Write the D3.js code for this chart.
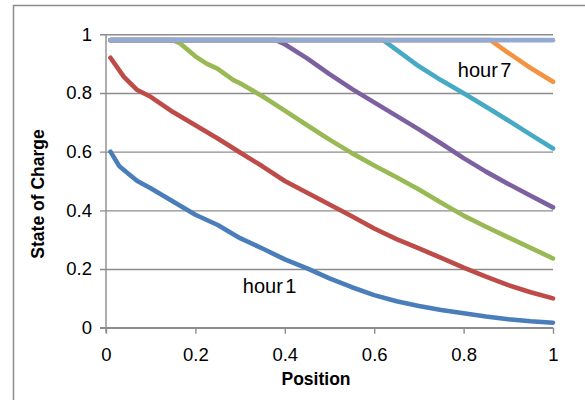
<!DOCTYPE html>
<html>
<head>
<meta charset="utf-8">
<script src="https://cdn.jsdelivr.net/npm/d3@7"></script>
<style>
  html, body { margin: 0; padding: 0; background: #fff; }
  svg { display: block; }
  text { font-family: "Liberation Sans", Arial, sans-serif; fill: #000; }
</style>
</head>
<body>
<svg id="chart" width="585" height="400"></svg>
<script>
// ---- data ----
const seriesNames = ["hour 1", "hour 2", "hour 3", "hour 4", "hour 5", "hour 6", "full"];
const hour1X = [0.01, 0.03, 0.05, 0.07, 0.10, 0.15, 0.20, 0.25, 0.30, 0.35, 0.40, 0.45, 0.50, 0.55, 0.60, 0.65, 0.70, 0.75, 0.80, 0.85, 0.90, 0.95, 1.00];
const hour1Y = [0.60, 0.55, 0.525, 0.50, 0.475, 0.43, 0.385, 0.35, 0.305, 0.27, 0.233, 0.202, 0.168, 0.138, 0.111, 0.09, 0.074, 0.06, 0.049, 0.038, 0.029, 0.022, 0.017];
const hour2X = [0.01, 0.04, 0.07, 0.10, 0.15, 0.20, 0.25, 0.30, 0.35, 0.40, 0.45, 0.50, 0.55, 0.60, 0.65, 0.70, 0.75, 0.80, 0.85, 0.90, 0.95, 1.00];
const hour2Y = [0.92, 0.855, 0.81, 0.787, 0.735, 0.69, 0.645, 0.597, 0.55, 0.50, 0.46, 0.42, 0.38, 0.338, 0.302, 0.27, 0.238, 0.205, 0.174, 0.145, 0.121, 0.10];
const hour3X = [0.01, 0.15, 0.166, 0.20, 0.225, 0.25, 0.285, 0.30, 0.35, 0.40, 0.45, 0.50, 0.55, 0.60, 0.65, 0.70, 0.75, 0.80, 0.85, 0.90, 0.95, 1.00];
const hour3Y = [0.98, 0.98, 0.969, 0.925, 0.90, 0.882, 0.844, 0.833, 0.789, 0.74, 0.69, 0.641, 0.595, 0.553, 0.513, 0.471, 0.426, 0.382, 0.344, 0.308, 0.272, 0.236];
const hour4X = [0.01, 0.38, 0.40, 0.45, 0.50, 0.55, 0.60, 0.65, 0.70, 0.75, 0.80, 0.85, 0.90, 0.95, 1.00];
const hour4Y = [0.98, 0.98, 0.966, 0.918, 0.864, 0.814, 0.768, 0.722, 0.676, 0.628, 0.578, 0.532, 0.49, 0.45, 0.41];
const hour5X = [0.01, 0.62, 0.65, 0.70, 0.75, 0.80, 0.85, 0.90, 0.95, 1.00];
const hour5Y = [0.98, 0.98, 0.947, 0.891, 0.843, 0.799, 0.753, 0.706, 0.658, 0.611];
const hour6X = [0.01, 0.86, 0.90, 0.95, 1.00];
const hour6Y = [0.98, 0.98, 0.937, 0.885, 0.838];
const fullX = [0.01, 1.00];
const fullY = [0.98, 0.98];
const xTicks = [0, 0.2, 0.4, 0.6, 0.8, 1];
const yTicks = [0, 0.2, 0.4, 0.6, 0.8, 1];
const xTickLabels = ["0", "0.2", "0.4", "0.6", "0.8", "1"];
const yTickLabels = ["0", "0.2", "0.4", "0.6", "0.8", "1"];
const annotationText = ["hour 7", "hour 1"];
const annotationX = [0.787, 0.306];
const annotationY = [0.854, 0.118];
const xTitle = "Position";
const yTitle = "State of Charge";

// ---- build ----
const colors = ["#4A7EBB", "#BE4B48", "#98B954", "#7D60A0", "#46AAC5", "#F59240", "#93AAD2"];
const xs = [hour1X, hour2X, hour3X, hour4X, hour5X, hour6X, fullX];
const ys = [hour1Y, hour2Y, hour3Y, hour4Y, hour5Y, hour6Y, fullY];
const series = seriesNames.map((n, i) => ({ name: n, color: colors[i], pts: xs[i].map((x, j) => [x, ys[i][j]]) }));

const svg = d3.select("#chart");
svg.append("rect").attr("width", 585).attr("height", 400).attr("fill", "#fff");

// outer chart border (top and left visible)
svg.append("path").attr("d", "M13.5,400 L13.5,5.5 L585,5.5")
  .attr("fill", "none").attr("stroke", "#8c8c8c").attr("stroke-width", 1.5);

const x = d3.scaleLinear().domain([0, 1]).range([106, 553]);
const y = d3.scaleLinear().domain([0, 1]).range([327.7, 34.3]);
const gridColor = "#8c8c8c";

// horizontal gridlines + left ticks
const yAxis = d3.axisLeft(y).tickValues(yTicks).tickSize(-(553 - 106)).tickFormat((d, i) => yTickLabels[i]).tickPadding(14);
const gy = svg.append("g").attr("transform", "translate(106,0)").call(yAxis);
gy.select(".domain").remove();
gy.selectAll(".tick line").attr("stroke", gridColor).attr("stroke-width", 1.4).attr("x1", -6);
gy.selectAll(".tick text").attr("font-size", "18.5px").attr("font-family", "Liberation Sans, Arial, sans-serif").attr("fill", "#000");

// vertical axis line
svg.append("line").attr("x1", 106).attr("x2", 106).attr("y1", y(1)).attr("y2", y(0) + 5)
  .attr("stroke", gridColor).attr("stroke-width", 1.4);

// x axis
const xAxis = d3.axisBottom(x).tickValues(xTicks).tickSize(6).tickFormat((d, i) => xTickLabels[i]).tickPadding(14);
const gx = svg.append("g").attr("transform", `translate(0,${y(0)})`).call(xAxis);
gx.select(".domain").remove();
gx.selectAll(".tick line").attr("stroke", gridColor).attr("stroke-width", 1.4);
gx.selectAll(".tick text").attr("font-size", "18.5px").attr("font-family", "Liberation Sans, Arial, sans-serif").attr("fill", "#000");
svg.append("line").attr("x1", 100).attr("x2", 553).attr("y1", y(0)).attr("y2", y(0))
  .attr("stroke", gridColor).attr("stroke-width", 1.4);

// series lines
const line = d3.line().x(d => x(d[0])).y(d => y(d[1]));
svg.append("g").selectAll("path").data(series).join("path")
  .attr("d", d => line(d.pts))
  .attr("fill", "none")
  .attr("stroke", d => d.color)
  .attr("stroke-width", 4.6)
  .attr("stroke-linecap", "round")
  .attr("stroke-linejoin", "round");

// annotations
svg.append("g").selectAll("text").data(annotationText).join("text")
  .attr("x", (d, i) => x(annotationX[i]))
  .attr("y", (d, i) => y(annotationY[i]))
  .attr("font-size", "20px")
  .attr("word-spacing", "-3px")
  .text(d => d);

// axis titles
svg.append("text").attr("x", 316).attr("y", 385).attr("text-anchor", "middle")
  .attr("font-size", "17.5px").attr("font-weight", "bold").text(xTitle);
svg.append("text").attr("transform", "translate(43.5,194) rotate(-90)").attr("text-anchor", "middle")
  .attr("font-size", "17.5px").attr("font-weight", "bold").text(yTitle);
</script>
</body>
</html>
